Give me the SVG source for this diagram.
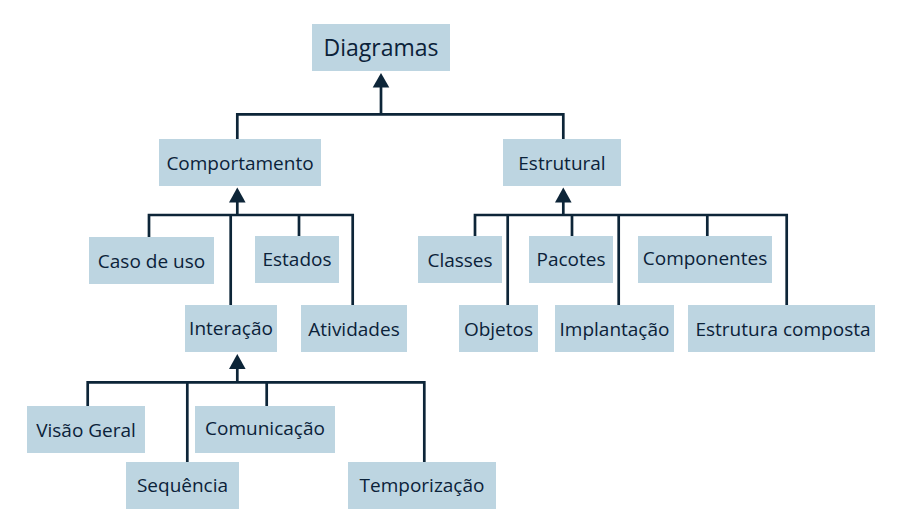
<svg xmlns="http://www.w3.org/2000/svg" width="908" height="530" viewBox="0 0 908 530">
<style>
.box{fill:#bdd5e1}
.lbl{font-family:"Open Sans","Noto Sans",sans-serif;font-size:19px;fill:#0b2239;text-anchor:middle}
.big{font-size:23px}
.ln{fill:none;stroke:#0d2538;stroke-width:2.7}
.ah{fill:#0d2538}
</style>
<rect width="908" height="530" fill="#ffffff"/>
<g id="connectors">
<path class="ln" d="M381,86 V114.3 M237.3,139 V114.3 H563.3 V139"/>
<polygon class="ah" points="381,73 372.7,87.5 389.3,87.5"/>
<path class="ln" d="M237.3,202 V215 M149,237 V215 H352.7 V305 M230.7,215 V305 M299,215 V236"/>
<polygon class="ah" points="237.3,187.5 229,202.5 245.6,202.5"/>
<path class="ln" d="M563.3,202 V215 M475,236 V215 H786.7 V305 M507.7,215 V305 M572,215 V236 M618.7,215 V305 M707.3,215 V236"/>
<polygon class="ah" points="563.3,187.5 555,202.5 571.6,202.5"/>
<path class="ln" d="M237.3,368 V382.3 M87.7,406 V382.3 H424.3 V462 M187.3,382.3 V462 M266.7,382.3 V406"/>
<polygon class="ah" points="237.3,354 229,369 245.6,369"/>
</g>
<g id="n-diagramas"><rect class="box" x="312" y="24" width="138" height="47"/><text class="lbl big" x="381" y="55.5">Diagramas</text></g>
<g id="n-comportamento"><rect class="box" x="159" y="139" width="162" height="47"/><text class="lbl" x="240" y="169.5">Comportamento</text></g>
<g id="n-estrutural"><rect class="box" x="503" y="139" width="118" height="47"/><text class="lbl" x="562" y="169.5">Estrutural</text></g>
<g id="n-casodeuso"><rect class="box" x="89" y="237" width="125" height="47"/><text class="lbl" x="151.5" y="268">Caso de uso</text></g>
<g id="n-estados"><rect class="box" x="255" y="236" width="84" height="47"/><text class="lbl" x="297" y="265.5">Estados</text></g>
<g id="n-interacao"><rect class="box" x="185" y="305" width="92" height="47"/><text class="lbl" x="231" y="335">Interação</text></g>
<g id="n-atividades"><rect class="box" x="301" y="305" width="106" height="47"/><text class="lbl" x="354" y="336">Atividades</text></g>
<g id="n-classes"><rect class="box" x="418" y="236" width="84" height="47"/><text class="lbl" x="460" y="267">Classes</text></g>
<g id="n-objetos"><rect class="box" x="459" y="305" width="79" height="47"/><text class="lbl" x="498.5" y="336">Objetos</text></g>
<g id="n-pacotes"><rect class="box" x="529" y="236" width="84" height="47"/><text class="lbl" x="571" y="266">Pacotes</text></g>
<g id="n-implantacao"><rect class="box" x="555" y="305" width="119" height="47"/><text class="lbl" x="614.5" y="336">Implantação</text></g>
<g id="n-componentes"><rect class="box" x="638" y="236" width="134" height="47"/><text class="lbl" x="705" y="264.5">Componentes</text></g>
<g id="n-estruturacomposta"><rect class="box" x="688" y="305" width="187" height="47"/><text class="lbl" x="783" y="335.5">Estrutura composta</text></g>
<g id="n-visaogeral"><rect class="box" x="27" y="406" width="118" height="47"/><text class="lbl" x="86" y="436.5">Visão Geral</text></g>
<g id="n-sequencia"><rect class="box" x="126" y="462" width="113" height="47"/><text class="lbl" x="182.5" y="492">Sequência</text></g>
<g id="n-comunicacao"><rect class="box" x="195" y="406" width="140" height="47"/><text class="lbl" x="265" y="434.5">Comunicação</text></g>
<g id="n-temporizacao"><rect class="box" x="348" y="462" width="148" height="47"/><text class="lbl" x="422" y="492">Temporização</text></g>
</svg>
